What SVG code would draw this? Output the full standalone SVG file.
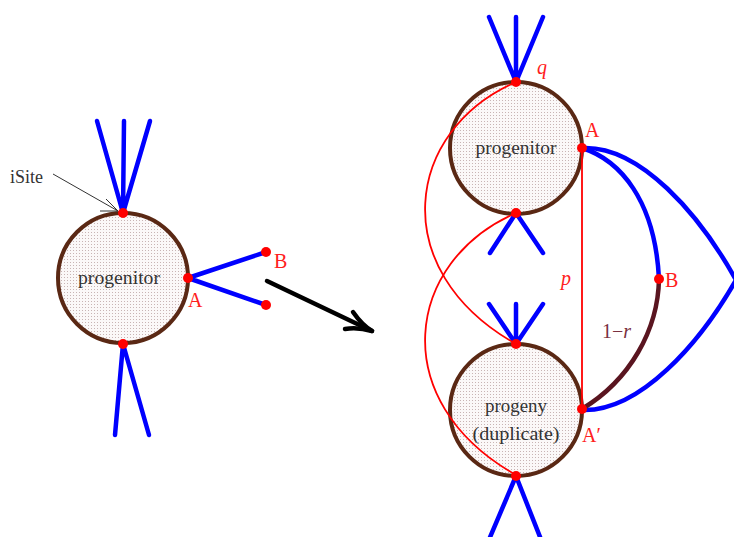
<svg xmlns="http://www.w3.org/2000/svg" width="734" height="537" viewBox="0 0 734 537">
<defs>
<pattern id="dots" width="3" height="3" patternUnits="userSpaceOnUse">
<rect width="3" height="3" fill="#fbf8f8"/>
<rect x="1" y="1" width="1" height="1" fill="#c8b4b4"/>
</pattern>
<style>
.cell{fill:url(#dots);stroke:#5a2814;stroke-width:4}
.blue{stroke:#0000ff;stroke-width:4.5;fill:none;stroke-linecap:round}
.red{stroke:#ff0000;stroke-width:1.8;fill:none}
.dot{fill:#ff0000}
.lbl{font-family:"Liberation Serif",serif;fill:#ff2020;font-size:20px}
.it{font-style:italic}
.name{font-family:"Liberation Serif",serif;fill:#333;font-size:18px;text-anchor:middle}
</style>
</defs>
<rect width="734" height="537" fill="#fff"/>

<g id="left-cell">
<circle class="cell" cx="123" cy="278" r="65"/>
<text class="name" x="119" y="284" textLength="82" lengthAdjust="spacingAndGlyphs">progenitor</text>
</g>
<g id="right-top-cell">
<circle class="cell" cx="516" cy="148" r="66"/>
<text class="name" x="516" y="154" textLength="81" lengthAdjust="spacingAndGlyphs">progenitor</text>
</g>
<g id="right-bottom-cell">
<circle class="cell" cx="516" cy="410" r="66"/>
<text class="name" x="516" y="412" textLength="62" lengthAdjust="spacingAndGlyphs">progeny</text>
<text class="name" x="516" y="440" textLength="87" lengthAdjust="spacingAndGlyphs">(duplicate)</text>
</g>

<g id="connectors">
<!-- left cell -->
<path class="blue" d="M123,213 L97,121 M123,213 L124,121 M123,213 L150,121"/>
<path class="blue" d="M123,344 L115,435 M123,344 L149,435"/>
<path class="blue" d="M188,278 L266,252 M188,278 L266,305"/>
<!-- iSite pointer -->
<path d="M53,174 L118,211" stroke="#333" stroke-width="1" fill="none"/>
<path d="M106,199 L118,211 L100,211" stroke="#333" stroke-width="1" fill="none"/>
<!-- big arrow -->
<path d="M267,281 L372,331" stroke="#000" stroke-width="4.5" fill="none" stroke-linecap="round"/>
<path d="M353,312 Q362,325 372,331 Q358,327 345,329" stroke="#000" stroke-width="4.5" fill="none" stroke-linecap="round" stroke-linejoin="round"/>

<!-- right top cell edges -->
<path class="blue" d="M516,82 L489,17 M516,82 L516,17 M516,82 L543,17"/>
<path class="blue" d="M516,213 L490,253 M516,213 L543,253"/>
<!-- right bottom cell edges -->
<path class="blue" d="M516,344 L489,304 M516,344 L516,304 M516,344 L543,304"/>
<path class="blue" d="M516,476 L488,542 M516,476 L542,542"/>
<!-- A branches -->
<path class="blue" d="M582,148 C620,160 655,200 659,279"/>
<path class="blue" d="M582,148 C640,145 700,215 736,280 C700,343 640,412 582,410"/>
<path d="M659,279 C658,330 630,380 582,409" stroke="#5a1520" stroke-width="4.5" fill="none" stroke-linecap="round"/>
<!-- red links -->
<path class="red" d="M582,148 L582,409"/>
<path class="red" d="M516,82 C405,130 385,270 516,344"/>
<path class="red" d="M516,213 C405,261 385,401 516,475"/>
</g>

<g id="sites">
<circle class="dot" cx="123" cy="213" r="5"/>
<circle class="dot" cx="123" cy="344" r="5"/>
<circle class="dot" cx="188" cy="278" r="5"/>
<circle class="dot" cx="266" cy="252" r="5"/>
<circle class="dot" cx="266" cy="305" r="5"/>
<circle class="dot" cx="516" cy="82" r="5"/>
<circle class="dot" cx="516" cy="213" r="5"/>
<circle class="dot" cx="582" cy="148" r="5"/>
<circle class="dot" cx="516" cy="344" r="5"/>
<circle class="dot" cx="516" cy="476" r="5"/>
<circle class="dot" cx="582" cy="409" r="5"/>
<circle class="dot" cx="659" cy="279" r="5"/>
</g>

<g id="labels">
<text x="10" y="183" font-family="Liberation Serif,serif" font-size="18" fill="#333">iSite</text>
<text class="lbl" x="188" y="307">A</text>
<text class="lbl" x="274" y="268">B</text>
<text class="lbl it" x="537" y="74">q</text>
<text class="lbl" x="585" y="137">A</text>
<text class="lbl" x="665" y="287">B</text>
<text class="lbl it" x="561" y="285">p</text>
<text class="lbl" x="582" y="442">A′</text>
<text x="602" y="338" font-family="Liberation Serif,serif" font-size="20" fill="#7a3040">1−<tspan font-style="italic">r</tspan></text>
</g>
</svg>
